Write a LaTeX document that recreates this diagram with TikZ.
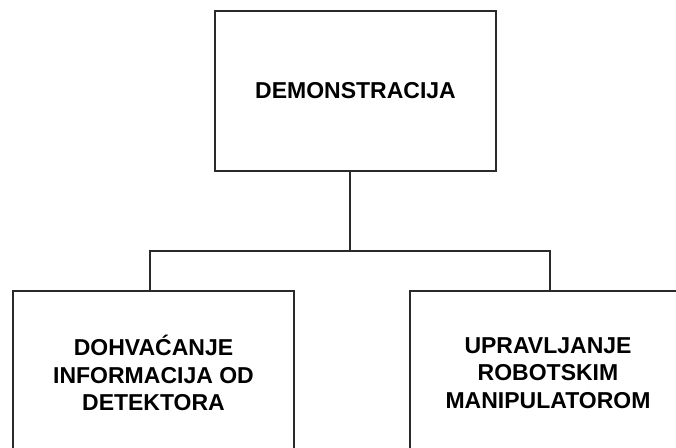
\documentclass[tikz,border=0pt]{standalone}
\usepackage{fontspec}
\setmainfont{Liberation Sans}
\definecolor{linec}{HTML}{2A2A2A}
\begin{document}
\begin{tikzpicture}[x=1pt,y=-1pt,
  box/.style={draw=linec, line width=1.7pt, rectangle, inner sep=0pt, align=center,
    font=\fontsize{23}{27.5}\selectfont\bfseries},
  conn/.style={draw=linec, line width=1.7pt}]
\useasboundingbox (0,0) rectangle (676,447);
\clip (0,0) rectangle (676,447);
\fill[white] (0,0) rectangle (676,447);
\node[box, minimum width=281pt, minimum height=160pt] (top) at (355.5,91) {DEMONSTRACIJA};
\node[box, minimum width=281pt, minimum height=164pt] (left) at (153.5,373) {DOHVAĆANJE\\INFORMACIJA OD\\DETEKTORA};
\node[box, minimum width=276pt, minimum height=164pt] (right) at (548,373) {UPRAVLJANJE\\ROBOTSKIM\\MANIPULATOROM};
\coordinate (j) at (350,251);
\coordinate (hl) at (150,251);
\coordinate (hr) at (550,251);
\draw[conn] (top.south -| j) -- (j);
\draw[conn, line cap=rect] (hl) -- (hr);
\draw[conn] (hl) -- (hl |- left.north);
\draw[conn] (hr) -- (hr |- right.north);
\end{tikzpicture}
\end{document}
